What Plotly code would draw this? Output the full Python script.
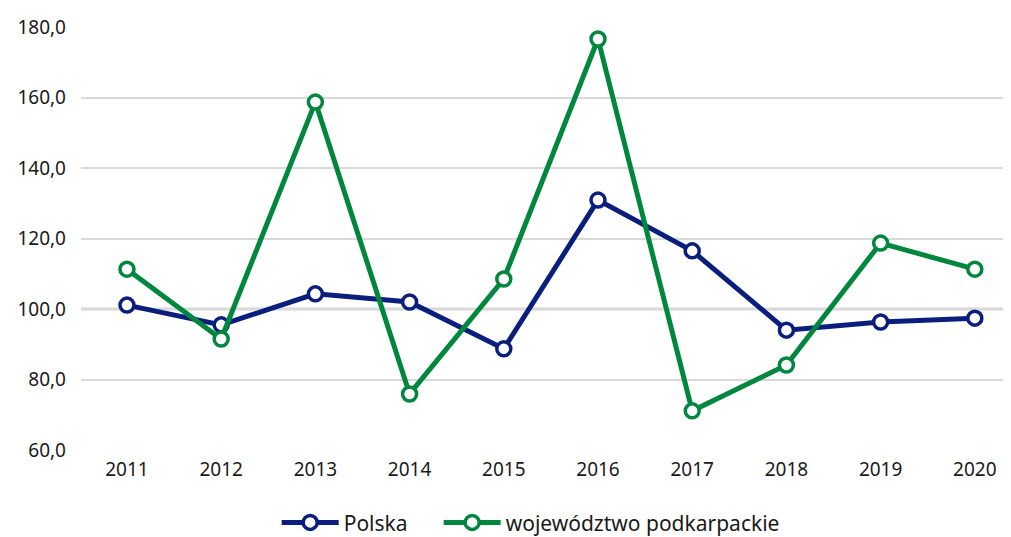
import plotly.graph_objects as go

years = ["2011", "2012", "2013", "2014", "2015", "2016", "2017", "2018", "2019", "2020"]
polska = [101.1, 95.5, 104.3, 102.0, 88.7, 130.9, 116.5, 94.0, 96.3, 97.4]
podkarpackie = [111.3, 91.5, 158.7, 75.9, 108.5, 176.6, 71.1, 84.1, 118.7, 111.3]
y_ticks = [60, 80, 100, 120, 140, 160, 180]
baseline = 100

BLUE = "#0a1f7d"
GREEN = "#00873e"
FONT = "Noto Sans"

fig = go.Figure()
for name, vals, col, lg in [("Polska", polska, BLUE, "legend"),
                            ("województwo podkarpackie", podkarpackie, GREEN, "legend2")]:
    fig.add_trace(go.Scatter(
        x=years, y=vals, name=name, mode="lines+markers", legend=lg,
        line=dict(color=col, width=5),
        marker=dict(symbol="circle", size=14, color="white", line=dict(color=col, width=3.5)),
    ))

fig.add_shape(type="line", xref="paper", yref="y", x0=0, x1=1, y0=baseline, y1=baseline,
              line=dict(color="#a6a6a6", width=2.5), layer="between")

leg_common = dict(orientation="h", xanchor="left", y=-0.172, yanchor="middle",
                  font=dict(size=21), itemwidth=57, tracegroupgap=0,
                  bgcolor="rgba(0,0,0,0)")

fig.update_layout(
    width=1011, height=560,
    margin=dict(l=73, r=8, t=19, b=118),
    paper_bgcolor="white", plot_bgcolor="white",
    separators=", ",
    font=dict(family=FONT, size=19, color="#1a1a1a"),
    showlegend=True,
    legend=dict(x=0.2104, **leg_common),
    legend2=dict(x=0.3846, **leg_common),
    xaxis=dict(type="category", range=[-0.488, 9.384], showgrid=False, zeroline=False,
               showline=False, ticks="", tickfont=dict(size=19), ticklabelstandoff=6,
               automargin=False),
    yaxis=dict(range=[60, 180], tickvals=y_ticks, tickformat=".1f", showgrid=True,
               gridcolor="#d9d9d9", gridwidth=1.5, zeroline=False, showline=False,
               ticks="", tickfont=dict(size=19), ticklabelstandoff=14, automargin=False),
)

fig.write_html("out.html")
